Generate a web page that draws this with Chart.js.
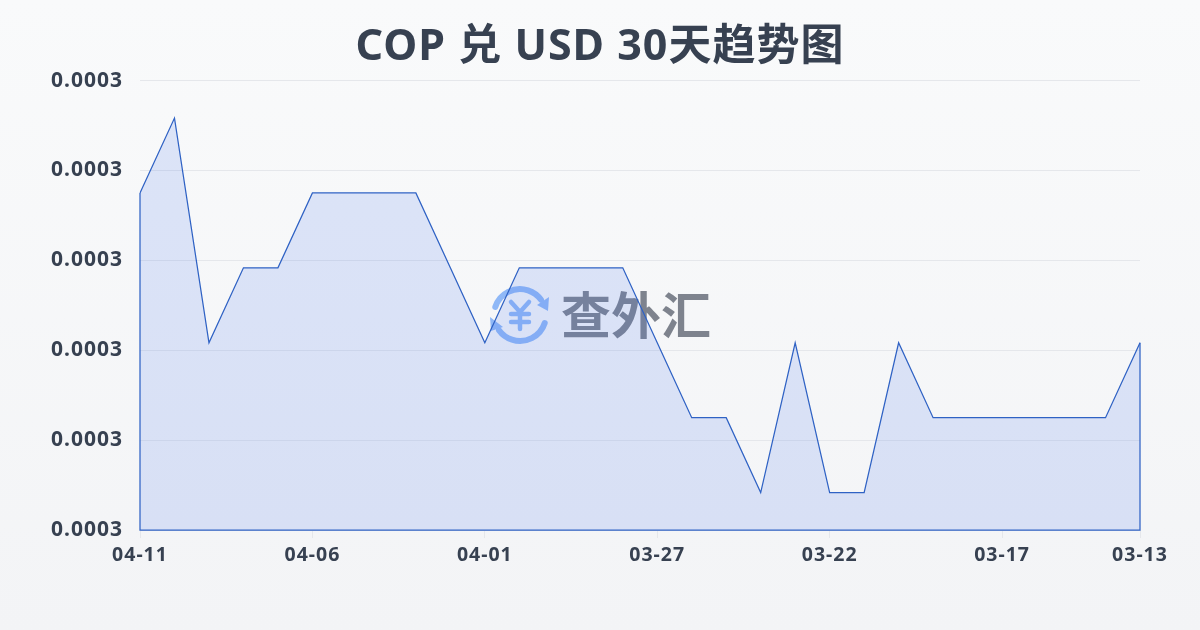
<!DOCTYPE html>
<html>
<head>
<meta charset="utf-8">
<script src="https://cdn.jsdelivr.net/npm/chart.js@4/dist/chart.umd.min.js"></script>
<style>
    html, body { margin: 0; padding: 0; width: 1200px; height: 630px; overflow: hidden; }
    body { background: linear-gradient(180deg, #f9fafb 0%, #f3f4f6 100%); }
    #rateChart { display: block; }
</style>
</head>
<body>
<canvas id="rateChart" width="1200" height="630"></canvas>
<script>
const dateLabels = [
    '04-11', '04-10', '04-09', '04-08', '04-07', '04-06', '04-05', '04-04', '04-03', '04-02',
    '04-01', '03-31', '03-30', '03-29', '03-28', '03-27', '03-26', '03-25', '03-24', '03-23',
    '03-22', '03-21', '03-20', '03-19', '03-18', '03-17', '03-16', '03-15', '03-14', '03-13',
];
const rateValues = [
    0.000257, 0.000258, 0.000255, 0.000256, 0.000256, 0.000257, 0.000257, 0.000257, 0.000257, 0.000256,
    0.000255, 0.000256, 0.000256, 0.000256, 0.000256, 0.000255, 0.000254, 0.000254, 0.000253, 0.000255,
    0.000253, 0.000253, 0.000255, 0.000254, 0.000254, 0.000254, 0.000254, 0.000254, 0.000254, 0.000255,
];
const titleText = 'COP 兑 USD 30天趋势图';
const watermarkText = '查外汇';
const mainFont = '"Noto Sans", "Noto Sans CJK SC", sans-serif';

// the original text is slightly spaced out
const spacingPlugin = {
    id: 'spacing',
    beforeUpdate(chart) {
        chart.ctx.letterSpacing = '1px';
    },
    beforeDraw(chart) {
        chart.ctx.letterSpacing = '1px';
    },
};

// closes the line down to the axis, like the original outline
const outlinePlugin = {
    id: 'outline',
    afterDatasetsDraw(chart) {
        const pts = chart.getDatasetMeta(0).data;
        const bottom = chart.scales.y.bottom;
        const first = pts[0];
        const last = pts[pts.length - 1];
        const ctx = chart.ctx;
        ctx.save();
        ctx.strokeStyle = '#2f62c4';
        ctx.lineWidth = 1.25;
        ctx.beginPath();
        ctx.moveTo(first.x, first.y);
        ctx.lineTo(first.x, bottom);
        ctx.lineTo(last.x, bottom);
        ctx.lineTo(last.x, last.y);
        ctx.stroke();
        ctx.restore();
    },
};

// logo and name behind the line
const watermarkPlugin = {
    id: 'watermark',
    beforeDatasetsDraw(chart) {
        const ctx = chart.ctx;
        const cx = 520;
        const cy = 315;
        ctx.save();
        ctx.letterSpacing = '0px';
        ctx.strokeStyle = '#8fb8f7';
        ctx.fillStyle = '#8fb8f7';
        ctx.lineWidth = 6;
        ctx.lineCap = 'round';
        ctx.beginPath();
        ctx.arc(cx, cy, 26, Math.PI * 1.1, Math.PI * 1.8);
        ctx.stroke();
        ctx.beginPath();
        ctx.arc(cx, cy, 26, Math.PI * 0.1, Math.PI * 0.8);
        ctx.stroke();
        // arrow heads
        ctx.beginPath();
        ctx.moveTo(549, 297);
        ctx.lineTo(548, 311);
        ctx.lineTo(537, 305);
        ctx.closePath();
        ctx.fill();
        ctx.beginPath();
        ctx.moveTo(490, 317);
        ctx.lineTo(503, 327);
        ctx.lineTo(491, 331);
        ctx.closePath();
        ctx.fill();
        // yen sign
        ctx.lineWidth = 4.5;
        ctx.beginPath();
        ctx.moveTo(511, 302);
        ctx.lineTo(520, 312);
        ctx.lineTo(529, 302);
        ctx.moveTo(520, 312);
        ctx.lineTo(520, 329);
        ctx.moveTo(511, 314);
        ctx.lineTo(529, 314);
        ctx.moveTo(511, 322);
        ctx.lineTo(529, 322);
        ctx.stroke();
        ctx.fillStyle = 'rgba(85, 92, 105, 0.75)';
        ctx.font = 'bold 50px "Noto Sans CJK SC"';
        ctx.textAlign = 'left';
        ctx.textBaseline = 'middle';
        ctx.fillText(watermarkText, 561, cy);
        ctx.restore();
    },
};

new Chart(document.getElementById('rateChart').getContext('2d'), {
    type: 'line',
    data: {
        labels: dateLabels,
        datasets: [
            {
                data: rateValues,
                borderColor: '#2f62c4',
                borderWidth: 1.25,
                backgroundColor: 'rgba(74, 120, 235, 0.16)',
                fill: 'origin',
                tension: 0,
                pointRadius: 0,
            },
        ],
    },
    options: {
        responsive: false,
        animation: false,
        plugins: {
            legend: { display: false },
            tooltip: { enabled: false },
            title: {
                display: true,
                text: titleText,
                color: '#374151',
                font: { family: mainFont, size: 43, weight: 'bold' },
                padding: { top: 22, bottom: 7 },
            },
        },
        scales: {
            x: {
                grid: { drawOnChartArea: false, color: '#e5e7eb', tickLength: 8 },
                border: { display: false },
                ticks: {
                    autoSkip: false,
                    maxRotation: 0,
                    color: '#374151',
                    padding: 6,
                    font: { family: mainFont, size: 19.5, weight: 'bold' },
                },
                afterBuildTicks(axis) {
                    const lastIndex = dateLabels.length - 1;
                    axis.ticks = axis.ticks.filter((t) => t.value % 5 === 0 || t.value === lastIndex);
                },
                afterFit(axis) {
                    axis.height = 100;
                },
            },
            y: {
                min: 0.0002525,
                max: 0.0002585,
                grid: { color: '#e5e7eb', drawTicks: false },
                border: { display: false },
                ticks: {
                    stepSize: 0.0000012,
                    color: '#374151',
                    padding: 17,
                    font: { family: mainFont, size: 21, weight: 'bold' },
                    callback: (value) => value.toFixed(4),
                },
                afterFit(axis) {
                    axis.width = 140;
                },
            },
            // empty axis, keeps the right margin without moving the title
            spacer: {
                position: 'right',
                grid: { display: false },
                border: { display: false },
                ticks: { display: false },
                afterFit(axis) {
                    axis.width = 60;
                },
            },
        },
    },
    plugins: [spacingPlugin, watermarkPlugin, outlinePlugin],
});
</script>
</body>
</html>
